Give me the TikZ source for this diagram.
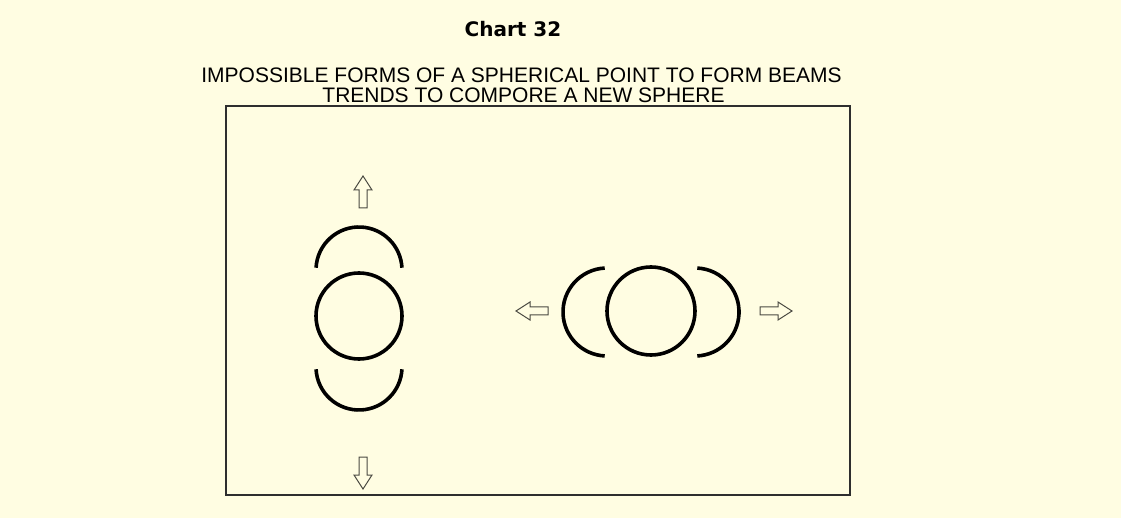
\documentclass[tikz,border=0pt]{standalone}
\usepackage{fontspec}
\setmainfont{Liberation Sans}
\newfontfamily\titlefont{DejaVu Sans}
\definecolor{cream}{HTML}{FFFDE2}
\definecolor{arrowgray}{HTML}{4A4A42}
\definecolor{framegray}{HTML}{2E2E2E}
\begin{document}
\begin{tikzpicture}[x=1pt,y=-1pt,
  ring/.style={line width=3.6pt, black},
  frame/.style={line width=1.5pt, draw=framegray},
  titletext/.style={font=\titlefont\bfseries\fontsize{20}{24}\selectfont, inner sep=0pt, anchor=base},
  subtext/.style={font=\fontsize{21}{25}\selectfont, inner sep=0pt, anchor=base},
  blockarrow/.pic={\draw[line width=1pt, draw=arrowgray, fill=cream, line join=miter]
     (0,-16) -- (9,-2) -- (4,-2) -- (4,16) -- (-4,16) -- (-4,-2) -- (-9,-2) -- cycle;}]
  \fill[cream] (0,0) rectangle (1121,518);
  \useasboundingbox (0,0) rectangle (1121,518);

  \node[titletext] (title) at (513,37) {Chart 32};
  \node[subtext] (sub1) at (521.5,83) {IMPOSSIBLE FORMS OF A SPHERICAL POINT TO FORM BEAMS};
  \node[subtext] (sub2) at (523.5,103) {TRENDS TO COMPORE A NEW SPHERE};

  \draw[frame] (226,106) rectangle (850,495);

  % vertical group
  \draw[ring] (359,316) circle[radius=43pt];
  \draw[ring] (359,270) ++(177:43pt) arc[start angle=177, end angle=3, radius=43pt];
  \draw[ring] (359,367) ++(183:43pt) arc[start angle=183, end angle=357, radius=43pt];
  \pic at (363,192) {blockarrow};
  \pic[rotate=180] at (363,473) {blockarrow};

  % horizontal group
  \draw[ring] (651,311) circle[radius=44pt];
  \draw[ring] (607,312) ++(93:44pt) arc[start angle=93, end angle=267, radius=44pt];
  \draw[ring] (695,312) ++(87:44pt) arc[start angle=87, end angle=-87, radius=44pt];
  \pic[rotate=90] at (532,311) {blockarrow};
  \pic[rotate=-90] at (776,311) {blockarrow};
\end{tikzpicture}
\end{document}
